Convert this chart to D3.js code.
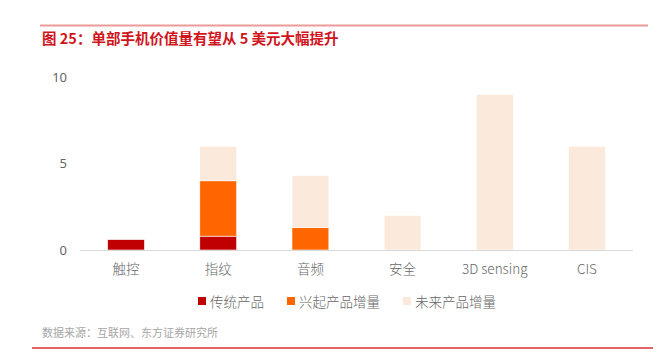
<!DOCTYPE html>
<html>
<head>
<meta charset="utf-8">
<script src="https://cdn.jsdelivr.net/npm/d3@7"></script>
<style>
  body { margin: 0; background: #fff; }
  svg { display: block; font-family: "Noto Sans CJK SC", "Microsoft YaHei", sans-serif; }
</style>
</head>
<body>
<script>
var width = 658;
var height = 362;

var categories = ['触控', '指纹', '音频', '安全', '3D sensing', 'CIS'];
var seriesNames = ['传统产品', '兴起产品增量', '未来产品增量'];
var traditional = [0.6, 0.8, 0, 0, 0, 0];
var emerging = [0, 3.2, 1.3, 0, 0, 0];
var future = [0, 2.0, 3.0, 2.0, 9.0, 6.0];
var yTicks = [0, 5, 10];
var colors = ['#C00000', '#FF6600', '#FBE9DB'];

var svg = d3.select('body').append('svg')
  .attr('width', width)
  .attr('height', height);

// rules at top and bottom
svg.append('line')
   .attr('x1', 40).attr('x2', 648)
   .attr('y1', 25.5).attr('y2', 25.5)
   .style('stroke', '#EC9A9A')
   .style('stroke-width', 2);

svg.append('text')
   .attr('x', 42)
   .attr('y', 44)
   .style('font-size', '14.5px')
   .style('font-weight', 'bold')
   .style('fill', '#D0141C')
   .text('图 25：单部手机价值量有望从 5 美元大幅提升');

svg.append('line')
   .attr('x1', 32).attr('x2', 653)
   .attr('y1', 348).attr('y2', 348)
   .style('stroke', '#E36464')
   .style('stroke-width', 2);

svg.append('text')
   .attr('x', 42)
   .attr('y', 337)
   .style('font-size', '11px')
   .style('fill', '#A6A6A6')
   .text('数据来源：互联网、东方证券研究所');

var x = d3.scaleBand()
  .domain(categories)
  .range([80, 633])
  .paddingInner(0.6)
  .paddingOuter(0.3);

var y = d3.scaleLinear()
  .domain([0, 10])
  .range([250, 77]);

var stackData = categories.map(function(c, i) {
  return { cat: c, s0: traditional[i], s1: emerging[i], s2: future[i] };
});
var stack = d3.stack().keys(['s0', 's1', 's2']);
var layers = stack(stackData);

var barsG = svg.append('g');
layers.forEach(function(layer, li) {
  barsG.selectAll('.layer' + li)
       .data(layer.filter(function(d) { return d[1] - d[0] > 0; }))
       .enter()
       .append('rect')
       .attr('class', 'layer' + li)
       .attr('x', function(d) { return x(d.data.cat); })
       .attr('width', x.bandwidth())
       .attr('y', function(d) { return y(d[1]); })
       .attr('height', function(d) { return y(d[0]) - y(d[1]); })
       .style('fill', colors[li])
       .style('stroke', '#fff')
       .style('stroke-width', 0.6);
});

// x axis baseline
svg.append('line')
   .attr('x1', 80).attr('x2', 633)
   .attr('y1', y(0) + 0.5).attr('y2', y(0) + 0.5)
   .style('stroke', '#D9D9D9')
   .style('stroke-width', 1);

var yAxis = d3.axisLeft(y).tickValues(yTicks).tickSize(0).tickPadding(0);
var yG = svg.append('g')
  .attr('transform', 'translate(67,0)')
  .call(yAxis);
yG.select('.domain').remove();
yG.selectAll('text')
  .style('font-size', '13px')
  .style('fill', '#666')
  .style('font-family', '"Noto Sans", sans-serif');

var xAxis = d3.axisBottom(x).tickSize(0).tickPadding(0);
var xG = svg.append('g')
  .attr('transform', 'translate(0,' + 264 + ')')
  .call(xAxis);
xG.select('.domain').remove();
xG.selectAll('text')
  .style('font-size', '13.5px')
  .style('fill', '#666')
  .style('font-weight', '300')
  .style('font-family', '"Noto Sans CJK SC", sans-serif');

// legend
var legendX = [198, 287, 403];
var legendG = svg.selectAll('.legendItem')
  .data(seriesNames)
  .enter()
  .append('g')
  .attr('class', 'legendItem')
  .attr('transform', function(d, i) { return 'translate(' + legendX[i] + ',297)'; });

legendG.append('rect')
  .attr('width', 8)
  .attr('height', 8)
  .style('fill', function(d, i) { return colors[i]; });

legendG.append('text')
  .attr('x', 12)
  .attr('y', 9.5)
  .style('font-size', '13.5px')
  .style('fill', '#666')
  .style('font-weight', '300')
  .text(function(d) { return d; });
</script>
</body>
</html>
